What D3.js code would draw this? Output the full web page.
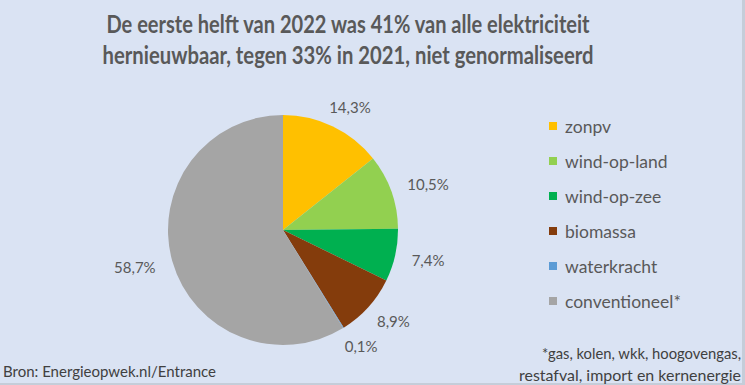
<!DOCTYPE html>
<html><head><meta charset="utf-8">
<script src="https://cdn.jsdelivr.net/npm/d3@7/dist/d3.min.js"></script>
<style>
html,body{margin:0;padding:0;background:#dae3f3;}
svg{display:block;font-family:Lato,"Open Sans",sans-serif;}
</style></head>
<body>
<svg id="chart" width="745" height="385"></svg>
<script>
const categories = ["zonpv","wind-op-land","wind-op-zee","biomassa","waterkracht","conventioneel*"];
const values = [14.3,10.5,7.4,8.9,0.1,58.7];
const valueLabels = ["14,3%","10,5%","7,4%","8,9%","0,1%","58,7%"];
const colors = ["#ffc000","#92d050","#00b050","#843c0c","#5b9bd5","#a5a5a5"];
const titleLines = ["De eerste helft van 2022 was 41% van alle elektriciteit","hernieuwbaar, tegen 33% in 2021, niet genormaliseerd"];
const sourceText = "Bron: Energieopwek.nl/Entrance";
const noteLines = ["*gas, kolen, wkk, hoogovengas,","restafval, import en kernenergie"];

const svg = d3.select("#chart");
const W = 745, H = 385;
svg.append("rect").attr("width",W).attr("height",H).attr("fill","#dae3f3");
svg.append("line").attr("x1",W-1.5).attr("x2",W-1.5).attr("y1",0).attr("y2",H).attr("stroke","#c5cdd9").attr("stroke-width",3);
svg.append("line").attr("x1",0).attr("x2",W).attr("y1",H-1).attr("y2",H-1).attr("stroke","#c5cdd9").attr("stroke-width",2);

const textColor = "#595959";
function fit(sel, w){ const n=sel.node(); const l=n.getComputedTextLength(); if(l>0) sel.attr("textLength",w).attr("lengthAdjust","spacingAndGlyphs"); }

// title
titleLines.forEach((t,i)=>{
  const s = svg.append("text").attr("x",348).attr("y",33+i*31).attr("text-anchor","middle")
    .attr("font-size",24).attr("font-weight","bold").attr("fill",textColor).text(t);
  fit(s, i===0?483:491);
});

// pie
const cx=283, cy=230, r=115;
const g = svg.append("g").attr("transform",`translate(${cx},${cy})`);
const pie = d3.pie().sort(null).value(d=>d)(values);
const arc = d3.arc().innerRadius(0).outerRadius(r);
g.selectAll("path.slice").data(pie).join("path").attr("class","slice")
  .attr("d",arc).attr("fill",(d,i)=>colors[i]);

// labels
const fs=15;
g.selectAll("text.lbl").data(pie).join("text").attr("class","lbl")
  .attr("font-size",fs).attr("fill",textColor).text((d,i)=>valueLabels[i])
  .each(function(d){
    const a=(d.startAngle+d.endAngle)/2;
    const R=r+14;
    const t=d3.select(this);
    const w=this.getComputedTextLength();
    const px=Math.sin(a)*R + Math.sin(a)*w/2*1.2;
    const py=-Math.cos(a)*R - Math.cos(a)*fs*0.5;
    t.attr("x",px).attr("y",py).attr("text-anchor","middle").attr("dominant-baseline","central");
  });

// legend
const lg = svg.append("g").attr("transform","translate(549,122)");
categories.forEach((c,i)=>{
  const row = lg.append("g").attr("transform",`translate(0,${i*35})`);
  row.append("rect").attr("width",8).attr("height",8).attr("fill",colors[i]);
  row.append("text").attr("x",16).attr("y",4).attr("dominant-baseline","central")
    .attr("font-size",17.5).attr("fill",textColor).text(c);
});

// footer
const src = svg.append("text").attr("x",3).attr("y",377).attr("font-size",15).attr("fill","#404040").text(sourceText);
fit(src,213);
noteLines.forEach((t,i)=>{
  const s=svg.append("text").attr("x",741).attr("y",359+i*22).attr("text-anchor","end")
    .attr("font-size",15).attr("fill","#404040").text(t);
  fit(s, i===0?199:222);
});
</script>
</body></html>
